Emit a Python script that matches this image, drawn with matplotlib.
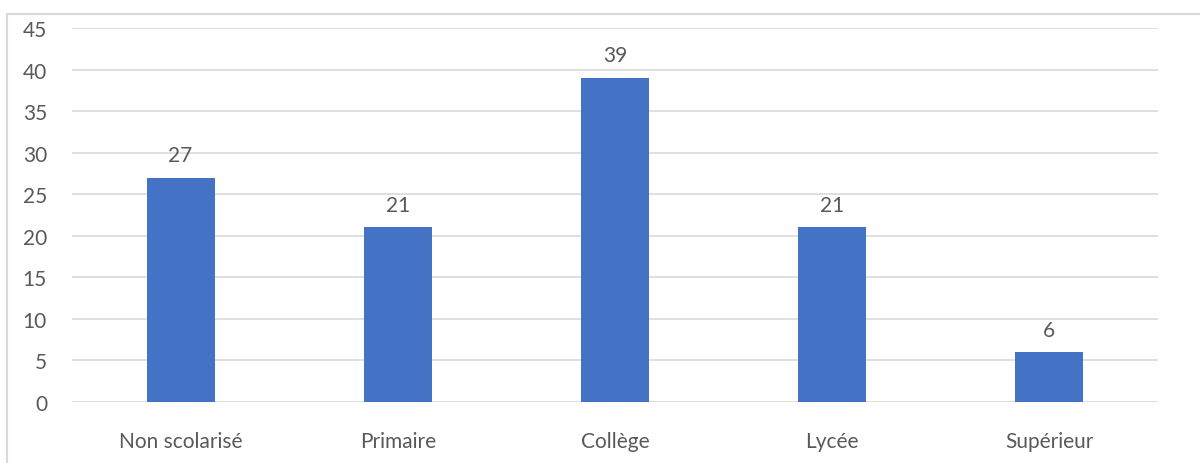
import matplotlib.pyplot as plt
from matplotlib.patches import Rectangle

categories = ['Non scolarisé', 'Primaire', 'Collège', 'Lycée', 'Supérieur']
values = [27, 21, 39, 21, 6]
yticks = [0, 5, 10, 15, 20, 25, 30, 35, 40, 45]

plt.rcParams['font.family'] = ['Lato', 'DejaVu Sans']
text_color = '#595959'
bar_color = '#4472c4'
grid_color = '#d9d9d9'

fig = plt.figure(figsize=(12, 4.64), dpi=100)
ax = fig.add_axes([0.06, 0.1315, 0.905, 0.806])

# chart border (cut off on right and bottom like the source)
fig.patches.append(Rectangle((7 / 1200, -0.1), 1.1, 1 - 15 / 464 + 0.1,
                             transform=fig.transFigure, fill=False,
                             edgecolor=grid_color, linewidth=1.5))

x = range(len(categories))
bars = ax.bar(x, values, width=0.313, color=bar_color, zorder=3)
for xi, v in zip(x, values):
    ax.annotate(str(v), (xi, v), xytext=(0, 9), textcoords='offset points',
                ha='center', va='bottom', fontsize=15, color=text_color)

ax.set_xlim(-0.5, len(categories) - 0.5)
ax.set_ylim(0, 45)
ax.set_yticks(yticks)
ax.set_xticks(list(x))
ax.set_xticklabels(categories)
ax.tick_params(axis='both', length=0, labelsize=15, colors=text_color)
ax.tick_params(axis='y', pad=18)
ax.tick_params(axis='x', pad=21)
ax.grid(axis='y', color=grid_color, linewidth=1.2, zorder=0)
for s in ax.spines.values():
    s.set_visible(False)

fig.savefig('out.png', dpi=100)
